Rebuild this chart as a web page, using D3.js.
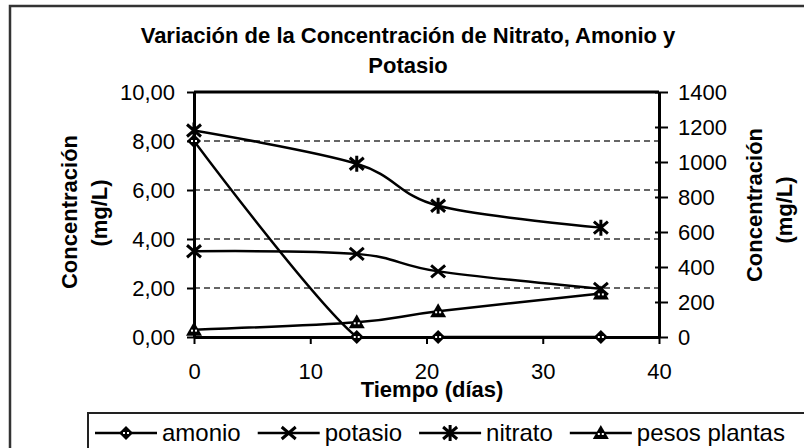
<!DOCTYPE html>
<html><head><meta charset="utf-8">
<script src="https://cdn.jsdelivr.net/npm/d3@7"></script>
<style>
body{margin:0;background:#fff}
svg{display:block}
text{font-family:"Liberation Sans",Arial,Helvetica,sans-serif;fill:#000}
</style>
</head><body>
<svg id="chart" width="804" height="448"></svg>
<script>
// ---- data ----
const days = [0, 14, 21, 35];
const amonio = [8.0, 0, 0, 0];             // left axis (mg/L)
const potasio = [490, 475, 375, 275];       // right axis (mg/L)
const nitrato = [1180, 990, 750, 625];      // right axis (mg/L)
const pesosPlantas = [0.3, 0.6, 1.05, 1.78];// left axis
const xTicks = [0, 10, 20, 30, 40];
const yLeftTicks = [0, 2, 4, 6, 8, 10];
const yRightTicks = [0, 200, 400, 600, 800, 1000, 1200, 1400];
const gridValues = [2, 4, 6, 8];
const seriesNames = ["amonio", "potasio", "nitrato", "pesos plantas"];
const titleLines = ["Variación de la Concentración de Nitrato, Amonio y", "Potasio"];
const yTitleLines = ["Concentración", "(mg/L)"];
const xTitle = "Tiempo (días)";

const svg = d3.select("#chart");
const L = 194, R = 659, T = 92, B = 337;
const x = d3.scaleLinear().domain([0, 40]).range([L, R]);
const yL = d3.scaleLinear().domain([0, 10]).range([B, T]);
const yR = d3.scaleLinear().domain([0, 1400]).range([B, T]);

// outer border
svg.append("rect").attr("x", 10).attr("y", 6).attr("width", 900).attr("height", 600)
  .attr("fill", "#fff").attr("stroke", "#333").attr("stroke-width", 2.5);

// title
svg.append("g").selectAll("text").data(titleLines).join("text")
  .attr("x", 408).attr("y", (d, i) => 35 + i * 30).attr("dy", "0.35em")
  .attr("text-anchor", "middle").attr("font-weight", "bold").attr("font-size", 22)
  .text(d => d);

// grid
svg.append("g").selectAll("line").data(gridValues).join("line")
  .attr("x1", L).attr("x2", R).attr("y1", d => yL(d)).attr("y2", d => yL(d))
  .attr("stroke", "#333").attr("stroke-width", 1.6).attr("stroke-dasharray", "6,4");

// plot frame top
svg.append("line").attr("x1", L).attr("x2", R).attr("y1", T).attr("y2", T)
  .attr("stroke", "#000").attr("stroke-width", 3);

// axes
const fmtL = d => d3.format(".2f")(d).replace(".", ",");
const gL = svg.append("g").attr("transform", `translate(${L},0)`)
  .call(d3.axisLeft(yL).tickValues(yLeftTicks).tickFormat(fmtL).tickSize(7).tickSizeOuter(0).tickPadding(12));
const gR = svg.append("g").attr("transform", `translate(${R},0)`)
  .call(d3.axisRight(yR).tickValues(yRightTicks).tickFormat(d3.format("d")).tickSize(9).tickSizeOuter(0).tickPadding(10));
gR.selectAll(".tick line").attr("x1", -4);
const gB = svg.append("g").attr("transform", `translate(0,${B})`)
  .call(d3.axisBottom(x).tickValues(xTicks).tickSize(7).tickSizeOuter(0).tickPadding(21));
[gL, gR, gB].forEach(g => {
  g.select(".domain").attr("stroke", "#000").attr("stroke-width", 3);
  g.selectAll(".tick line").attr("stroke", "#000").attr("stroke-width", 2);
  g.selectAll(".tick text").attr("font-size", 22).attr("font-family", '"Liberation Sans",Arial,sans-serif').attr("fill", "#000");
});
gB.selectAll(".tick text").attr("dy", "0.35em").attr("y", 34);

// axis titles
const yt = (cx, cy, i) => svg.append("text")
  .attr("transform", `translate(${cx},${cy}) rotate(-90)`).attr("dy", "0.35em")
  .attr("text-anchor", "middle").attr("font-weight", "bold").attr("font-size", 22)
  .text(yTitleLines[i]);
yt(69, 212, 0); yt(99, 213, 1);
yt(754, 205, 0); yt(784, 210, 1);
svg.append("text").attr("x", 432).attr("y", 389).attr("dy", "0.35em")
  .attr("text-anchor", "middle").attr("font-weight", "bold").attr("font-size", 22).text(xTitle);

// clip
svg.append("clipPath").attr("id", "clip").append("rect")
  .attr("x", L).attr("y", T).attr("width", R - L).attr("height", B - T + 1);

// series
const series = [
  {name: seriesNames[0], vals: amonio, y: yL, marker: "diamond"},
  {name: seriesNames[1], vals: potasio, y: yR, marker: "x"},
  {name: seriesNames[2], vals: nitrato, y: yR, marker: "star"},
  {name: seriesNames[3], vals: pesosPlantas, y: yL, marker: "triangle"}
];

function drawMarker(g, type, cx, cy) {
  const m = g.append("g").attr("transform", `translate(${cx},${cy})`);
  if (type === "diamond") {
    m.append("path").attr("d", "M0,-7L7,0L0,7L-7,0Z").attr("fill", "#000");
    m.append("rect").attr("x", -3).attr("y", -1).attr("width", 2).attr("height", 2).attr("fill", "#fff");
    m.append("rect").attr("x", 1).attr("y", -1).attr("width", 2).attr("height", 2).attr("fill", "#fff");
  } else if (type === "x") {
    m.append("path").attr("d", "M-7,-6L7,6M-7,6L7,-6").attr("stroke", "#000").attr("stroke-width", 3);
  } else if (type === "star") {
    m.append("path").attr("d", "M-7,-6L7,6M-7,6L7,-6M0,-8L0,8").attr("stroke", "#000").attr("stroke-width", 3);
  } else if (type === "triangle") {
    m.append("path").attr("d", "M0,-8L8,6L-8,6Z").attr("fill", "#000");
    m.append("rect").attr("x", -3).attr("y", 0).attr("width", 2).attr("height", 2).attr("fill", "#fff");
    m.append("rect").attr("x", 1).attr("y", 0).attr("width", 2).attr("height", 2).attr("fill", "#fff");
  }
}

const lineG = svg.append("g").attr("clip-path", "url(#clip)");
series.forEach(s => {
  const line = d3.line().x((d, i) => x(days[i])).y(d => s.y(d)).curve(d3.curveCatmullRom.alpha(0));
  lineG.append("path").attr("d", line(s.vals)).attr("fill", "none")
    .attr("stroke", "#000").attr("stroke-width", 2.5);
});
const markG = svg.append("g");
series.forEach(s => s.vals.forEach((v, i) => drawMarker(markG, s.marker, x(days[i]), s.y(v))));

// legend
svg.append("rect").attr("x", 88).attr("y", 413).attr("width", 800).attr("height", 100)
  .attr("fill", "#fff").attr("stroke", "#222").attr("stroke-width", 2);
let lx = 95;
const ly = 433;
series.forEach(s => {
  const g = svg.append("g");
  g.append("line").attr("x1", lx).attr("x2", lx + 62).attr("y1", ly).attr("y2", ly)
    .attr("stroke", "#000").attr("stroke-width", 2.5);
  drawMarker(g, s.marker, lx + 31, ly);
  const t = g.append("text").attr("x", lx + 67).attr("y", ly).attr("dy", "0.35em")
    .attr("font-size", 24).text(s.name);
  lx = lx + 67 + t.node().getComputedTextLength() + 17;
});
</script>
</body></html>
